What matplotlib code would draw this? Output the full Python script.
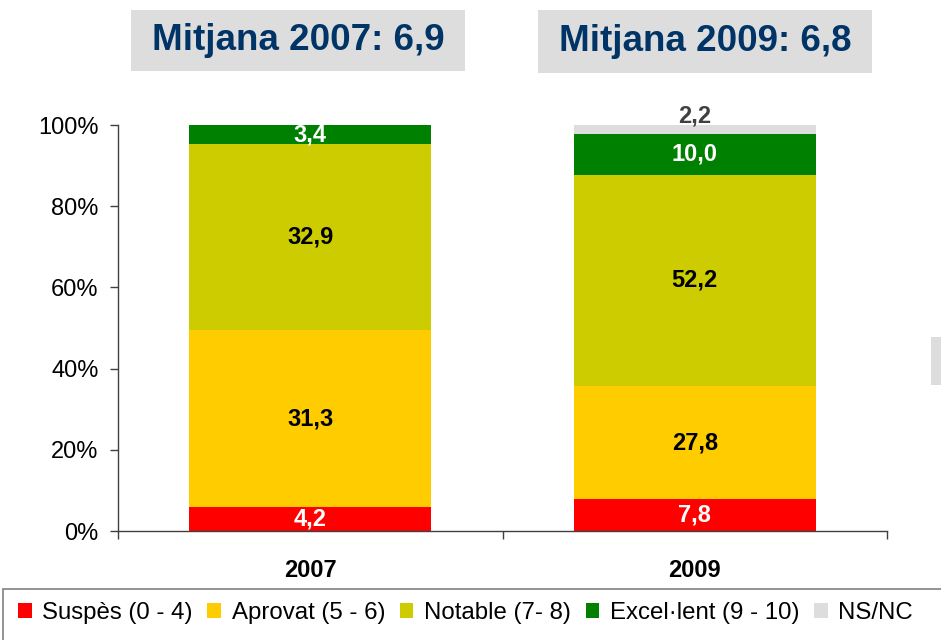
import numpy as np
import matplotlib
matplotlib.use("Agg")
import matplotlib.pyplot as plt
from matplotlib.patches import Patch, Rectangle

plt.rcParams['font.family'] = ['Liberation Sans', 'DejaVu Sans']

# dades
anys = ['2007', '2009']
categories = ['Suspès (0 - 4)', 'Aprovat (5 - 6)', 'Notable (7- 8)',
              'Excel·lent (9 - 10)', 'NS/NC']
valors_2007 = [4.2, 31.3, 32.9, 3.4, 0.0]
valors_2009 = [7.8, 27.8, 52.2, 10.0, 2.2]
mitjanes = ['6,9', '6,8']

colors = ['#FF0000', '#FFCC00', '#CCCC00', '#008000', '#DDDDDD']
colors_text = ['white', 'black', 'black', 'white', '#404040']

fig = plt.figure(figsize=(9.41, 6.40), dpi=100)
ax = fig.add_axes([118/941, 1-531/640, (887-118)/941, (531-125)/640])

taula = np.array([valors_2007, valors_2009])
# barres al 100%
percent = taula / taula.sum(axis=1, keepdims=True) * 100
x = np.arange(len(anys))
amplada = 0.63

base = np.zeros(len(anys))
for i, cat in enumerate(categories):
    ax.bar(x, percent[:, i], amplada, bottom=base, color=colors[i],
           label=cat, linewidth=0)
    for j in range(len(anys)):
        v = taula[j, i]
        if v <= 0:
            continue
        etiqueta = f"{v:.1f}".replace('.', ',')
        if cat == 'NS/NC':
            ypos = 102.2
        else:
            ypos = base[j] + percent[j, i] / 2
        ax.text(x[j], ypos, etiqueta, ha='center', va='center',
                fontsize=17, fontweight='bold', color=colors_text[i])
    base += percent[:, i]

ax.set_xlim(-0.5, 1.5)
ax.set_ylim(0, 100)
ax.set_yticks([0, 20, 40, 60, 80, 100])
ax.set_yticklabels(['0%', '20%', '40%', '60%', '80%', '100%'], fontsize=17)
ax.tick_params(axis='y', direction='out', length=6, width=1, color='#404040', pad=8)

ax.set_xticks(x)
ax.set_xticklabels(anys, fontsize=17, fontweight='bold')
ax.set_xticks([-0.5, 0.5, 1.5], minor=True)
ax.tick_params(axis='x', which='major', length=0, pad=20)
ax.tick_params(axis='x', which='minor', direction='out', length=6, width=1, color='#404040')

for s in ['top', 'right']:
    ax.spines[s].set_visible(False)
for s in ['left', 'bottom']:
    ax.spines[s].set_color('#404040')
    ax.spines[s].set_linewidth(1)

# caixes de mitjana
caixes = [(131, 10, 465, 71), (538, 10, 872, 73)]
for (x0, y0, x1, y1), any_, m in zip(caixes, anys, mitjanes):
    fig.patches.append(Rectangle((x0/941, 1-y1/640), (x1-x0)/941, (y1-y0)/640,
                                 transform=fig.transFigure, facecolor='#DDDDDD',
                                 edgecolor='none'))
    fig.text((x0+x1)/2/941, 1-(y0+y1)/2/640, f"Mitjana {any_}: {m}",
             ha='center', va='center', fontsize=26.5, fontweight='bold', color='#003366')

# tros gris a la dreta
fig.patches.append(Rectangle((931/941, 1-385/640), 12/941, 48/640,
                             transform=fig.transFigure, facecolor='#DDDDDD',
                             edgecolor='none'))

# marc de la llegenda
fig.patches.append(Rectangle((3/941, -0.05), 0.999, 1-589/640+0.05,
                             transform=fig.transFigure, facecolor='none',
                             edgecolor='#808080', linewidth=1.2))
handles = [Patch(facecolor=c, edgecolor='none') for c in colors]
fig.legend(handles, categories, loc='center left', bbox_to_anchor=(0.019, 1-613/640),
           ncol=5, frameon=False, fontsize=17.3, handlelength=0.57, handleheight=0.57,
           handletextpad=0.45, columnspacing=0.6, borderaxespad=0, borderpad=0)

fig.savefig('out.png', dpi=100)
